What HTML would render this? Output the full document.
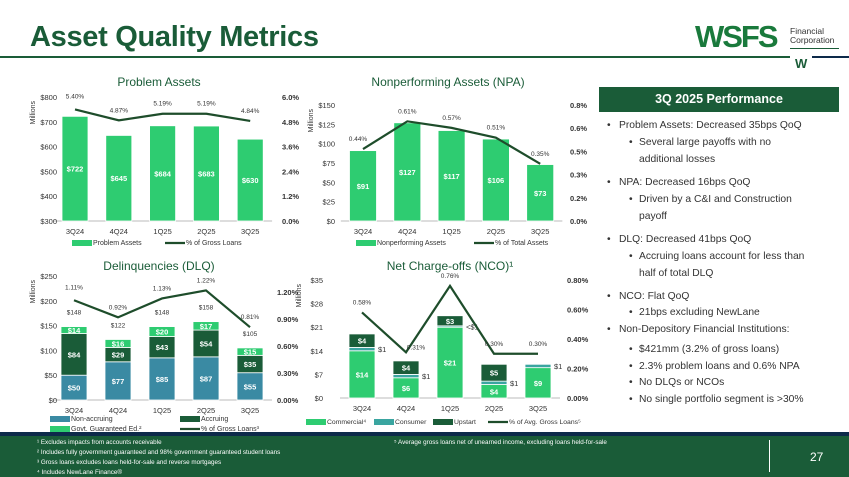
<!DOCTYPE html>
<html><head><meta charset="utf-8"><style>
body{margin:0;width:849px;height:477px;overflow:hidden;background:#fff;font-family:"Liberation Sans",sans-serif;position:relative}
.a{position:absolute}
#title{left:30px;top:21px;font-size:29px;font-weight:bold;color:#1a5c38;letter-spacing:-0.3px}
#panel-head{left:599px;top:87px;width:240px;height:25px;background:#1a5c38;color:#fff;font-size:12.5px;font-weight:bold;text-align:center;line-height:25px}
.b{position:absolute;font-size:10.3px;color:#333;white-space:nowrap}
.b::before{content:"•";position:absolute;left:-12px}
.fn{position:absolute;color:#fff;font-size:6.3px;white-space:nowrap}
</style></head><body>
<div class="a" id="title">Asset Quality Metrics</div>
<div class="a" style="left:0;top:56px;width:790px;height:2px;background:#1a5c38"></div>
<div class="a" style="left:812px;top:56px;width:37px;height:2px;background:#0d2a4a"></div>
<div class="a" style="left:695px;top:19px;font-size:31px;font-weight:bold;color:#1a7a3c;letter-spacing:-2px">WSFS</div>
<div class="a" style="left:790px;top:27px;font-size:8.5px;color:#333;line-height:9px">Financial<br>Corporation</div>
<div class="a" style="left:790px;top:48px;width:49px;height:1px;background:#1a5c38"></div>
<div class="a" style="left:795px;top:56px;font-size:13px;font-weight:bold;color:#1a5c38">W</div>

<div class="a" id="panel-head">3Q 2025 Performance</div>
<div>
<div class="b" style="left:619px;top:120px">Problem Assets: Decreased 35bps QoQ</div>
<div class="b" style="left:639px;top:137px">Several large payoffs with no</div>
<div class="b" style="left:639px;top:154px;">additional losses</div>
<div class="b" style="left:619px;top:177px">NPA: Decreased 16bps QoQ</div>
<div class="b" style="left:639px;top:194px">Driven by a C&amp;I and Construction</div>
<div class="b" style="left:639px;top:211px">payoff</div>
<div class="b" style="left:619px;top:234px">DLQ: Decreased 41bps QoQ</div>
<div class="b" style="left:639px;top:251px">Accruing loans account for less than</div>
<div class="b" style="left:639px;top:268px">half of total DLQ</div>
<div class="b" style="left:619px;top:291px">NCO: Flat QoQ</div>
<div class="b" style="left:639px;top:307px">21bps excluding NewLane</div>
<div class="b" style="left:619px;top:324px">Non-Depository Financial Institutions:</div>
<div class="b" style="left:639px;top:344px">$421mm (3.2% of gross loans)</div>
<div class="b" style="left:639px;top:361px">2.3% problem loans and 0.6% NPA</div>
<div class="b" style="left:639px;top:377px">No DLQs or NCOs</div>
<div class="b" style="left:639px;top:394px">No single portfolio segment is &gt;30%</div>
</div>
<style>.b:nth-child(2)::before,.b:nth-child(3)::before,.b:nth-child(5)::before,.b:nth-child(6)::before,.b:nth-child(8)::before,.b:nth-child(9)::before,.b:nth-child(11)::before,.b:nth-child(13)::before,.b:nth-child(14)::before,.b:nth-child(15)::before,.b:nth-child(16)::before{left:-10px}
.b:nth-child(3)::before,.b:nth-child(6)::before,.b:nth-child(9)::before{content:""}</style>

<div class="a" style="left:0;top:432px;width:849px;height:4px;background:#0d2a4a"></div>
<div class="a" style="left:0;top:436px;width:849px;height:41px;background:#1a5c38"></div>
<div class="fn" style="left:37px;top:439px">¹ Excludes impacts from accounts receivable</div>
<div class="fn" style="left:37px;top:449px">² Includes fully government guaranteed and 98% government guaranteed student loans</div>
<div class="fn" style="left:37px;top:459px">³ Gross loans excludes loans held-for-sale and reverse mortgages</div>
<div class="fn" style="left:37px;top:469px">⁴ Includes NewLane Finance®</div>
<div class="fn" style="left:394px;top:439px">⁵ Average gross loans net of unearned income, excluding loans held-for-sale</div>
<div class="a" style="left:769px;top:440px;width:1px;height:32px;background:#fff"></div>
<div class="a" style="left:810px;top:450px;color:#fff;font-size:12px">27</div>

<svg class="a" id="svg" style="left:0;top:0" width="849" height="477" xmlns="http://www.w3.org/2000/svg" font-family="Liberation Sans, sans-serif"></svg>
<script>
const categories=["3Q24","4Q24","1Q25","2Q25","3Q25"];
const paValues=[722,645,684,683,630];
const paPct=[5.40,4.87,5.19,5.19,4.84];
const paLeftTicks=["$300","$400","$500","$600","$700","$800"];
const paRightTicks=["0.0%","1.2%","2.4%","3.6%","4.8%","6.0%"];
const npaValues=[91,127,117,106,73];
const npaPct=[0.44,0.61,0.57,0.51,0.35];
const npaLeftTicks=["$0","$25","$50","$75","$100","$125","$150"];
const npaRightTicks=["0.0%","0.2%","0.3%","0.5%","0.6%","0.8%"];
const dlqNonAccruing=[50,77,85,87,55];
const dlqAccruing=[84,29,43,54,35];
const dlqGovt=[14,16,20,17,15];
const dlqTotals=[148,122,148,158,105];
const dlqPct=[1.11,0.92,1.13,1.22,0.81];
const dlqLeftTicks=["$0","$50","$100","$150","$200","$250"];
const dlqRightTicks=["0.00%","0.30%","0.60%","0.90%","1.20%"];
const dlqRightTickValues=[0,0.3,0.6,0.9,1.2];
const ncoCommercial=[14,6,21,4,9];
const ncoConsumer=[1,1,0.4,1,1];
const ncoUpstart=[4,4,3,5,0];
const ncoConsumerLabels=["$1","$1","<$1","$1","$1"];
const ncoPct=[0.58,0.31,0.76,0.30,0.30];
const ncoLeftTicks=["$0","$7","$14","$21","$28","$35"];
const ncoRightTicks=["0.00%","0.20%","0.40%","0.60%","0.80%"];

const svg=document.getElementById('svg');const NS="http://www.w3.org/2000/svg";
function el(t,a,txt){const e=document.createElementNS(NS,t);for(const k in a)e.setAttribute(k,a[k]);if(txt!==undefined)e.textContent=txt;svg.appendChild(e);return e;}
const LG="#2ecc71",DG="#1a5c38",TEAL="#3a8aa3",LINE="#1e4d2b",TX="#333";
function txt(x,y,s,o){o=o||{};const e=el('text',{x:x,y:y,'font-size':o.fs||7.5,fill:o.fill||TX,'text-anchor':o.anchor||'middle','font-weight':o.fw||'normal'},s);return e;}
function setup(c){
  c.x=i=>c.x0+i*c.dx;
  c.y=v=>c.base-(v-c.lmin)/(c.lmax-c.lmin)*(c.base-c.top);
  c.yr=v=>c.base-v/c.rmax*(c.base-c.top);
  let e=el('line',{x1:c.x0-c.dx/2,x2:c.x0+4.5*c.dx,y1:c.base,y2:c.base,stroke:'#bbb','stroke-width':1});
  
  c.lt.forEach((s,i)=>{const t=txt(c.lx,c.base-i*(c.base-c.top)/(c.lt.length-1)+3,s,{anchor:'end',fs:7.5});});
  c.rt.forEach((s,i)=>{const yy=c.rv?c.yr(c.rv[i]):c.base-i*(c.base-c.top)/(c.rt.length-1);const t=txt(c.rx,yy+3,s,{anchor:'start',fs:7.5,fw:'bold'});});
  categories.forEach((s,i)=>{const t=txt(c.x(i),c.base+13,s,{fs:7.5});});
  const m=txt(0,0,'Millions',{fs:7});m.setAttribute('transform',`translate(${c.lx-22},${c.top+4}) rotate(-90)`);m.setAttribute('text-anchor','end');
  
  const ti=txt(c.tx,c.ty,c.title,{fs:12,fill:DG});
}
function line(c,p){
  const pts=p.map((v,i)=>c.x(i)+','+c.yr(v)).join(' ');
  const l=el('polyline',{points:pts,fill:'none',stroke:LINE,'stroke-width':2.2});
  
}
function rect(x,y,w,h,f,name){const r=el('rect',{x:x,y:y,width:w,height:Math.max(h,0),fill:f,stroke:'#fff','stroke-width':0.8});return r;}
function legend(x,y,kind,col,label,fs){
  if(kind==='box'){const r=el('rect',{x:x,y:y-5,width:20,height:6,fill:col});}
  else {const r=el('line',{x1:x,x2:x+20,y1:y-2,y2:y-2,stroke:col,'stroke-width':2.2});}
  const t=txt(x+21,y,label,{anchor:'start',fs:fs||7.5});
}
// Problem Assets
const c1={x0:75,dx:43.8,base:221,top:97,lmin:300,lmax:800,rmax:6,lx:57,rx:282,lt:paLeftTicks,rt:paRightTicks,tx:159,ty:86,title:'Problem Assets'};
setup(c1);
paValues.forEach((v,i)=>{rect(c1.x(i)-13,c1.y(v),26,c1.base-c1.y(v),LG,'bar-problem-assets');const t=txt(c1.x(i),(c1.y(v)+c1.base)/2+3,'$'+v,{fill:'#fff',fs:7.5,fw:'bold'});});
line(c1,paPct);
paPct.forEach((v,i)=>{const t=txt(c1.x(i),c1.yr(v)-8-(i==0?3:0),v.toFixed(2)+'%',{fs:6.5});});
legend(72,245,'box',LG,'Problem Assets',7);legend(165,245,'line',LINE,'% of Gross Loans',7);
// NPA
const c2={x0:363,dx:44.3,base:221,top:105,lmin:0,lmax:150,rmax:0.71,lx:335,rx:570,lt:npaLeftTicks,rt:npaRightTicks,tx:448,ty:86,title:'Nonperforming Assets (NPA)'};
setup(c2);
npaValues.forEach((v,i)=>{rect(c2.x(i)-13.5,c2.y(v),27,c2.base-c2.y(v),LG,'bar-npa');const t=txt(c2.x(i),(c2.y(v)+c2.base)/2+3,'$'+v,{fill:'#fff',fs:7.5,fw:'bold'});});
line(c2,npaPct);
npaPct.forEach((v,i)=>{const t=txt(c2.x(i)-(i==0?5:0),c2.yr(v)-8,v.toFixed(2)+'%',{fs:6.5});});
legend(356,245,'box',LG,'Nonperforming Assets',7);legend(474,245,'line',LINE,'% of Total Assets',7);
// DLQ
const c3={x0:74,dx:44,base:400,top:276,lmin:0,lmax:250,rmax:1.38,rv:dlqRightTickValues,lx:57,rx:277,lt:dlqLeftTicks,rt:dlqRightTicks,tx:159,ty:270,title:'Delinquencies (DLQ)'};
setup(c3);
categories.forEach((s,i)=>{
  const x=c3.x(i)-13;let b=0;
  [[dlqNonAccruing,TEAL,'bar-non-accruing'],[dlqAccruing,DG,'bar-accruing'],[dlqGovt,LG,'bar-govt-guaranteed']].forEach(([arr,col,n])=>{
    const y1=c3.y(b+arr[i]);rect(x,y1,26,c3.y(b)-y1,col,n);
    const t=txt(c3.x(i),(y1+c3.y(b))/2+3,'$'+arr[i],{fill:'#fff',fs:7.5,fw:'bold'});
    b+=arr[i];});
  const t=txt(c3.x(i),c3.y(dlqTotals[i])-12,'$'+dlqTotals[i],{fs:6.5});
});
line(c3,dlqPct);
dlqPct.forEach((v,i)=>{const t=txt(c3.x(i),c3.yr(v)-8-(i==0?3:0),v.toFixed(2)+'%',{fs:6.5});});
legend(50,421,'box',TEAL,'Non-accruing',7);legend(180,421,'box',DG,'Accruing',7);
legend(50,431,'box',LG,'Govt. Guaranteed Ed.²',7);legend(180,431,'line',LINE,'% of Gross Loans³',7);
// NCO
const c4={x0:362,dx:44,base:398,top:280,lmin:0,lmax:35,rmax:0.8,lx:323,rx:567,lt:ncoLeftTicks,rt:ncoRightTicks,tx:450,ty:270,title:'Net Charge-offs (NCO)¹'};
setup(c4);
categories.forEach((s,i)=>{
  const x=c4.x(i)-13;let b=0;
  [[ncoCommercial,LG,'bar-commercial',1],[ncoConsumer,'#3aa5a0','bar-consumer',0],[ncoUpstart,DG,'bar-upstart',1]].forEach(([arr,col,n,lab])=>{
    if(arr[i]<=0)return;
    const y1=c4.y(b+arr[i]);rect(x,y1,26,c4.y(b)-y1,col,n);
    if(lab){const t=txt(c4.x(i),(y1+c4.y(b))/2+3,'$'+arr[i],{fill:'#fff',fs:7.5,fw:'bold'});}
    else{const t=txt(x+29,(y1+c4.y(b))/2+3,ncoConsumerLabels[i],{anchor:'start',fs:7.5});}
    b+=arr[i];});
});
line(c4,ncoPct);
ncoPct.forEach((v,i)=>{const t=txt(c4.x(i)+(i==1?10:0),c4.yr(v)-8-(i==1?-5:0),v.toFixed(2)+'%',{fs:6.5});});
legend(306,424,'box',LG,'Commercial⁴',6.8);legend(374,424,'box','#3aa5a0','Consumer',6.8);legend(433,424,'box',DG,'Upstart',6.8);legend(488,424,'line',LINE,'% of Avg. Gross Loans⁵',6.8);
</script>
</body></html>
